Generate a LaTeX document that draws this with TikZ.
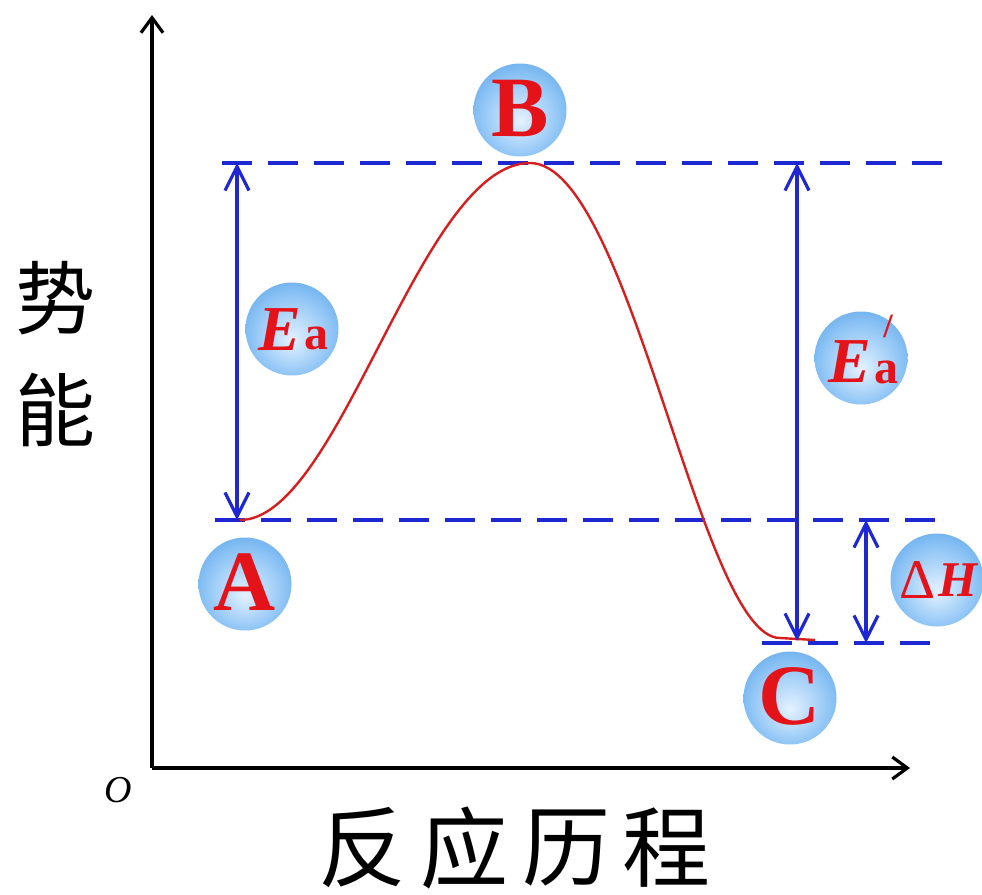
\documentclass[tikz,border=0pt]{standalone}
\usepackage{fontspec}
\setmainfont{Liberation Serif}
\newfontfamily\cjk{Noto Sans CJK SC}
\usetikzlibrary{arrows.meta}
\definecolor{ballin}{RGB}{228,242,255}
\definecolor{ballmid}{RGB}{140,195,245}
\definecolor{ballout}{RGB}{50,140,222}
\definecolor{lblred}{RGB}{228,18,25}
\definecolor{dashblue}{RGB}{30,40,210}
\definecolor{curvered}{RGB}{215,30,30}
\pgfdeclareradialshading{myball}{\pgfpoint{0bp}{-6bp}}{color(0bp)=(ballin); color(22bp)=(ballmid); color(44bp)=(ballout); color(50bp)=(ballout)}
\begin{document}
\begin{tikzpicture}[x=1pt,y=-1pt,
  ball/.style={circle, minimum size=93pt, inner sep=0pt, shading=myball},
  lbl/.style={text=lblred, font=\bfseries\fontsize{86}{88}\selectfont},
  guide/.style={dashblue, line width=3.4pt, dash pattern=on 30pt off 16pt},
  dim/.style={dashblue, line width=3.2pt, {Straight Barb[length=24pt,width=24pt]}-{Straight Barb[length=24pt,width=24pt]}},
  axis/.style={black, line width=3.2pt, -{Straight Barb[length=15pt,width=22pt]}}]
\useasboundingbox (0,0) rectangle (982,894);

% axes
\coordinate (O) at (152,768);
\coordinate (ytop) at (152,15);
\coordinate (xend) at (910,768);
\draw[axis] (O) -- (ytop);
\draw[axis] (O) -- (xend);
\node[font=\itshape\fontsize{38}{40}\selectfont] (olbl) at (118,790) {O};

% axis titles
\node[font=\cjk\fontsize{80}{82}\selectfont] (shi) at (55,298) {势};
\node[font=\cjk\fontsize{80}{82}\selectfont] (neng) at (55,410) {能};
\node[font=\cjk\fontsize{88}{90}\selectfont] (fan) at (362,848) {反};
\node[font=\cjk\fontsize{88}{90}\selectfont] (ying) at (464,848) {应};
\node[font=\cjk\fontsize{88}{90}\selectfont] (li) at (566,848) {历};
\node[font=\cjk\fontsize{88}{90}\selectfont] (cheng) at (666,848) {程};

% guide lines
\coordinate (g1a) at (222,163); \coordinate (g1b) at (945,163);
\coordinate (g2a) at (215,520); \coordinate (g2b) at (945,520);
\coordinate (g3a) at (762,643); \coordinate (g3b) at (945,643);
\draw[guide] (g1a) -- (g1b);
\draw[guide] (g2a) -- (g2b);
\draw[guide] (g3a) -- (g3b);

% curve
\coordinate (pA) at (240,520);
\coordinate (pB) at (530,163);
\coordinate (pC) at (780,638);
\coordinate (pE) at (815,640);
\draw[curvered, line width=2.4pt] (pA) .. controls (340,520) and (420,163) .. (pB)
  .. controls (630,163) and (700,638) .. (pC) -- (pE);

% dimension arrows
\coordinate (ea1) at (237,163); \coordinate (ea2) at (237,520);
\coordinate (eb1) at (797,163); \coordinate (eb2) at (797,641);
\coordinate (dh1) at (866,520); \coordinate (dh2) at (866,643);
\draw[dim] (ea1) -- (ea2);
\draw[dim] (eb1) -- (eb2);
\draw[dim] (dh1) -- (dh2);

% balls
\node[ball] (bA) at (245,584) {};
\node[lbl, yshift=2pt] (tA) at (bA) {A};
\node[ball] (bB) at (520,110) {};
\node[lbl, yshift=2pt] (tB) at (bB) {B};
\node[ball] (bC) at (790,698) {};
\node[lbl, yshift=2pt] (tC) at (bC) {C};

\node[ball] (bEa) at (292,329) {};
\node[text=lblred, font=\bfseries\itshape\fontsize{64}{66}\selectfont] (tE1) at (280,330) {E};
\node[text=lblred, font=\bfseries\fontsize{48}{50}\selectfont] (ta1) at (316,338) {a};

\node[ball] (bEb) at (861,358) {};
\node[text=lblred, font=\bfseries\itshape\fontsize{64}{66}\selectfont] (tE2) at (850,362) {E};
\node[text=lblred, font=\bfseries\fontsize{48}{50}\selectfont] (ta2) at (886,372) {a};
\node[text=lblred, font=\bfseries\fontsize{34}{36}\selectfont] (tp2) at (888,326) {/};

\node[ball] (bH) at (937,580) {};
\node[text=lblred, font=\fontsize{56}{58}\selectfont] (tD) at (917,580) {Δ};
\node[text=lblred, font=\bfseries\itshape\fontsize{50}{52}\selectfont] (tH) at (958,580) {H};
\end{tikzpicture}
\end{document}
